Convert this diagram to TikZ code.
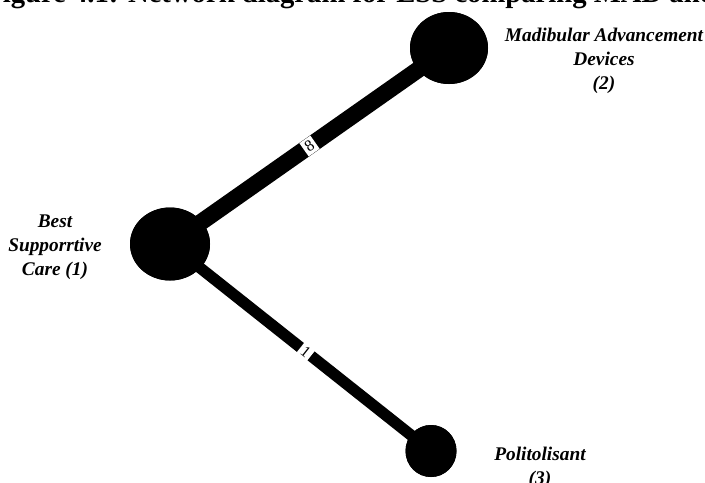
\documentclass[tikz,border=0pt]{standalone}
\usepackage{fontspec}
\setmainfont{Liberation Serif}
\usetikzlibrary{shapes.geometric}
\begin{document}
\begin{tikzpicture}[x=0.75pt,y=-0.75pt,
  netnode/.style={ellipse,fill=black,draw=none,inner sep=0pt},
  nodelabel/.style={align=center,font=\fontsize{14.5}{18}\selectfont\bfseries\itshape,inner sep=0pt},
  edgelabel/.style={fill=white,inner sep=2pt,font=\fontsize{12}{12}\selectfont,sloped},
  thickedge/.style={line width=12.5pt},
  thinedge/.style={line width=8.5pt}]
\useasboundingbox (0,0) rectangle (705,482);
\begin{scope}
\clip (0,0) rectangle (705,482);
\node[anchor=south west,inner sep=0pt,font=\fontsize{21.5}{24}\selectfont\bfseries] (title) at (-15,9) {Figure 4.1: Network diagram for ESS comparing MAD and pitolisant};
\node[netnode,minimum width=80*0.75pt,minimum height=73*0.75pt] (bsc) at (170,244) {};
\node[netnode,minimum width=78*0.75pt,minimum height=72*0.75pt] (mad) at (449,48) {};
\node[netnode,minimum width=51*0.75pt,minimum height=52*0.75pt] (pit) at (431,451) {};
\draw[thickedge] (bsc.center) -- node[edgelabel] (l8) {8} (mad.center);
\draw[thinedge] (bsc.center) -- node[edgelabel,pos=0.52] (l1) {1} (pit.center);
\node[netnode,minimum width=80*0.75pt,minimum height=73*0.75pt] (bsctop) at (bsc.center) {};
\node[netnode,minimum width=78*0.75pt,minimum height=72*0.75pt] (madtop) at (mad.center) {};
\node[netnode,minimum width=51*0.75pt,minimum height=52*0.75pt] (pittop) at (pit.center) {};
\node[nodelabel] (tmad) at (604,61) {Madibular Advancement\\Devices\\(2)};
\node[nodelabel] (tbsc) at (55,247) {Best\\Supporrtive\\Care (1)};
\node[nodelabel] (tpit) at (540,468) {Politolisant\\(3)};
\end{scope}
\end{tikzpicture}
\end{document}
